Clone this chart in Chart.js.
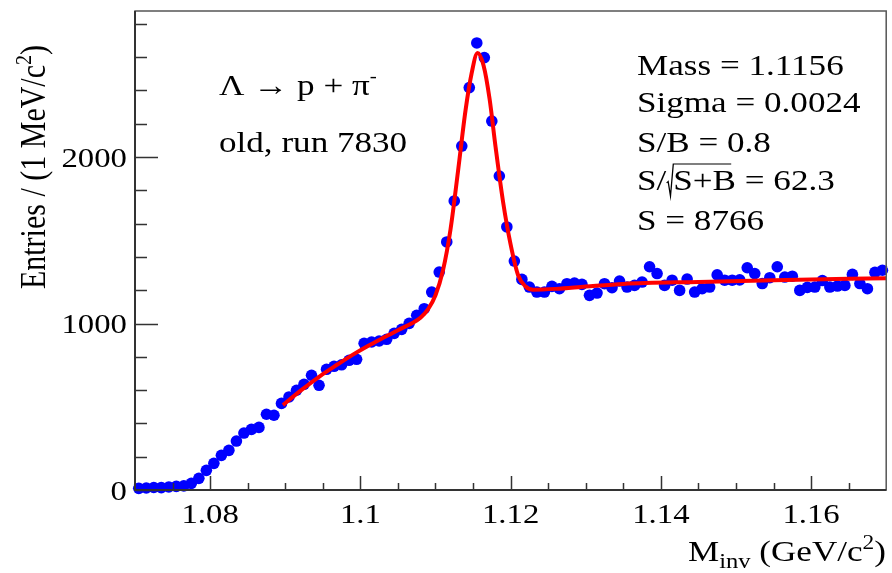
<!DOCTYPE html>
<html>
<head>
<meta charset="utf-8">
<script src="https://cdn.jsdelivr.net/npm/chart.js@4.4.1/dist/chart.umd.min.js"></script>
<style>
  html, body { margin: 0; padding: 0; background: #fff; }
  canvas { display: block; }
</style>
</head>
<body>
<canvas id="massChart" width="892" height="573"></canvas>
<script>
// bin centres, 1 MeV bins from 1.070 to 1.170
const massBins = [
  1.0705, 1.0715, 1.0725, 1.0735, 1.0745, 1.0755, 1.0765, 1.0775, 1.0785, 1.0795,
  1.0805, 1.0815, 1.0825, 1.0835, 1.0845, 1.0855, 1.0865, 1.0875, 1.0885, 1.0895,
  1.0905, 1.0915, 1.0925, 1.0935, 1.0945, 1.0955, 1.0965, 1.0975, 1.0985, 1.0995,
  1.1005, 1.1015, 1.1025, 1.1035, 1.1045, 1.1055, 1.1065, 1.1075, 1.1085, 1.1095,
  1.1105, 1.1115, 1.1125, 1.1135, 1.1145, 1.1155, 1.1165, 1.1175, 1.1185, 1.1195,
  1.1205, 1.1215, 1.1225, 1.1235, 1.1245, 1.1255, 1.1265, 1.1275, 1.1285, 1.1295,
  1.1305, 1.1315, 1.1325, 1.1335, 1.1345, 1.1355, 1.1365, 1.1375, 1.1385, 1.1395,
  1.1405, 1.1415, 1.1425, 1.1435, 1.1445, 1.1455, 1.1465, 1.1475, 1.1485, 1.1495,
  1.1505, 1.1515, 1.1525, 1.1535, 1.1545, 1.1555, 1.1565, 1.1575, 1.1585, 1.1595,
  1.1605, 1.1615, 1.1625, 1.1635, 1.1645, 1.1655, 1.1665, 1.1675, 1.1685, 1.1695
];
const entries = [
  10, 12, 15, 14, 18, 22, 25, 40, 70, 118,
  160, 208, 238, 294, 342, 364, 376, 455, 449, 520,
  559, 599, 635, 689, 629, 725, 743, 752, 779, 785,
  881, 889, 895, 905, 941, 965, 1001, 1049, 1089, 1189,
  1309, 1490, 1736, 2066, 2417, 2685, 2597, 2216, 1886, 1580,
  1375, 1265, 1219, 1189, 1189, 1223, 1209, 1239, 1243, 1235,
  1169, 1183, 1239, 1215, 1255, 1219, 1229, 1249, 1341, 1300,
  1229, 1260, 1199, 1267, 1189, 1209, 1219, 1292, 1260, 1260,
  1262, 1335, 1300, 1240, 1275, 1341, 1279, 1284, 1199, 1217,
  1219, 1258, 1219, 1225, 1229, 1295, 1240, 1209, 1307, 1320
];

// fitted curve
const fitMass = [
  1.0897, 1.0920, 1.0945, 1.0970, 1.0989, 1.1010, 1.1033, 1.1050, 1.1068, 1.1080,
  1.1090, 1.1100, 1.1110, 1.1120, 1.1130, 1.1140, 1.1148, 1.1156, 1.1164, 1.1172,
  1.1180, 1.1190, 1.1200, 1.1210, 1.1220, 1.1230, 1.1260, 1.1300, 1.1350, 1.1450,
  1.1550, 1.1700
];
const fitValues = [
  510, 595, 680, 755, 810, 865, 920, 960, 1000, 1035,
  1085, 1170, 1320, 1565, 1915, 2280, 2500, 2625, 2550, 2350,
  2060, 1730, 1475, 1290, 1222, 1203, 1208, 1222, 1238, 1250,
  1260, 1272
];

const xMajorTicks = [1.08, 1.10, 1.12, 1.14, 1.16];
const xTickLabels = ["1.08", "1.1", "1.12", "1.14", "1.16"];
const xMinorTicks = [1.075, 1.085, 1.09, 1.095, 1.105, 1.11, 1.115, 1.125, 1.13, 1.135,
  1.145, 1.15, 1.155, 1.165];
const yMajorTicks = [0, 1000, 2000];
const yTickLabels = ["0", "1000", "2000"];
const yMinorTicks = [200, 400, 600, 800, 1200, 1400, 1600, 1800, 2200, 2400, 2600, 2800];

const statLines = ["Mass = 1.1156", "Sigma = 0.0024", "S/B = 0.8", "SQRT", "S = 8766"];

const SERIF = '"Liberation Serif", "Times New Roman", serif';
const SX = 1.17; // ROOT text is a bit wider than Times

function font(size) {
  return size + "px " + SERIF;
}

// draw runs of text left to right, horizontally stretched
function drawRuns(ctx, runs, x, y, align) {
  ctx.save();
  ctx.textBaseline = "alphabetic";
  ctx.textAlign = "left";
  let w = 0;
  runs.forEach(r => {
    ctx.font = font(r.size);
    w += r.gap !== undefined ? r.gap : ctx.measureText(r.t).width;
  });
  ctx.translate(x, y);
  ctx.scale(SX, 1);
  let cx = align === "right" ? -w : align === "center" ? -w / 2 : 0;
  runs.forEach(r => {
    ctx.font = font(r.size);
    if (r.draw) {
      r.draw(ctx, cx);
      cx += r.gap;
    } else {
      ctx.fillText(r.t, cx, r.dy || 0);
      cx += ctx.measureText(r.t).width;
    }
  });
  ctx.restore();
}

const rootFrame = {
  id: "rootFrame",
  afterDatasetsDraw(chart) {
    const ctx = chart.ctx;
    const a = chart.chartArea;
    const xs = chart.scales.x;
    const ys = chart.scales.y;
    ctx.save();

    // frame
    ctx.strokeStyle = "#555";
    ctx.lineWidth = 1.5;
    ctx.strokeRect(a.left, a.top, a.right - a.left, a.bottom - a.top);
    ctx.lineWidth = 2;
    ctx.strokeStyle = "#333";
    ctx.beginPath();
    ctx.moveTo(a.left, a.top);
    ctx.lineTo(a.left, a.bottom);
    ctx.lineTo(a.right, a.bottom);
    ctx.stroke();

    // ticks, pointing inward
    ctx.lineWidth = 1.5;
    ctx.beginPath();
    xMajorTicks.forEach(v => {
      const px = Math.round(xs.getPixelForValue(v)) + 0.5;
      ctx.moveTo(px, a.bottom);
      ctx.lineTo(px, a.bottom - 14);
    });
    xMinorTicks.forEach(v => {
      const px = Math.round(xs.getPixelForValue(v)) + 0.5;
      ctx.moveTo(px, a.bottom);
      ctx.lineTo(px, a.bottom - 7);
    });
    yMajorTicks.forEach(v => {
      const py = Math.round(ys.getPixelForValue(v)) + 0.5;
      ctx.moveTo(a.left, py);
      ctx.lineTo(a.left + 23, py);
    });
    yMinorTicks.forEach(v => {
      const py = Math.round(ys.getPixelForValue(v)) + 0.5;
      ctx.moveTo(a.left, py);
      ctx.lineTo(a.left + 12, py);
    });
    ctx.stroke();

    ctx.fillStyle = "#000";
    // tick labels
    xMajorTicks.forEach((v, i) => {
      drawRuns(ctx, [{ t: xTickLabels[i], size: 28 }], xs.getPixelForValue(v), 523, "center");
    });
    yMajorTicks.forEach((v, i) => {
      drawRuns(ctx, [{ t: yTickLabels[i], size: 28 }], 127, ys.getPixelForValue(v) + 9.5, "right");
    });

    // x title
    drawRuns(ctx, [
      { t: "M", size: 30 },
      { t: "inv", size: 21, dy: 7 },
      { t: " (GeV/c", size: 30 },
      { t: "2", size: 20, dy: -12 },
      { t: ")", size: 30 }
    ], 886, 561, "right");

    // y title, rotated
    ctx.save();
    ctx.translate(45, 45);
    ctx.scale(SX, 1);
    ctx.rotate(-Math.PI / 2);
    ctx.textAlign = "left";
    ctx.textBaseline = "alphabetic";
    const yParts = [
      { t: "Entries / (1 MeV/c", size: 30, dy: 0 },
      { t: "2", size: 20, dy: -12 },
      { t: ")", size: 30, dy: 0 }
    ];
    let tw = 0;
    yParts.forEach(p => { ctx.font = font(p.size); tw += ctx.measureText(p.t).width; });
    let cx = -tw;
    yParts.forEach(p => {
      ctx.font = font(p.size);
      ctx.fillText(p.t, cx, p.dy);
      cx += ctx.measureText(p.t).width;
    });
    ctx.restore();

    // reaction label
    drawRuns(ctx, [
      { t: "\u039B \u2192 p + \u03C0", size: 30 },
      { t: "-", size: 18, dy: -13 }
    ], 219, 95, "left");
    drawRuns(ctx, [{ t: "old, run 7830", size: 30 }], 219, 152, "left");

    // fit results
    const baselines = [75, 112, 151.5, 190, 230];
    statLines.forEach((s, i) => {
      if (s === "SQRT") {
        drawRuns(ctx, [
          { t: "S/", size: 30 },
          {
            gap: 6, draw: (c, x0) => {
              c.save();
              c.lineWidth = 1.1;
              c.strokeStyle = "#000";
              c.beginPath();
              c.moveTo(x0 + 0.3, -7);
              c.lineTo(x0 + 1.6, -8.5);
              c.lineTo(x0 + 3.6, 6);
              c.lineTo(x0 + 6, -26);
              c.lineTo(x0 + 6 + 49.5, -26);
              c.stroke();
              c.restore();
            }
          },
          { t: "S+B", size: 30 },
          { t: " = 62.3", size: 30 }
        ], 637, baselines[i], "left");
      } else {
        drawRuns(ctx, [{ t: s, size: 30 }], 637, baselines[i], "left");
      }
    });

    ctx.restore();
  }
};

const points = massBins.map((m, i) => ({ x: m, y: entries[i] }));
const fitPoints = fitMass.map((m, i) => ({ x: m, y: fitValues[i] }));

new Chart(document.getElementById("massChart").getContext("2d"), {
  type: "scatter",
  data: {
    datasets: [
      {
        label: "fit",
        data: fitPoints,
        showLine: true,
        borderColor: "#ff0000",
        borderWidth: 4,
        pointRadius: 0,
        cubicInterpolationMode: "monotone",
        order: 0,
        clip: false
      },
      {
        label: "data",
        data: points,
        backgroundColor: "#0000ff",
        borderColor: "#0000ff",
        borderWidth: 0,
        pointRadius: 5.8,
        order: 1,
        clip: false
      }
    ]
  },
  options: {
    responsive: false,
    animation: false,
    devicePixelRatio: 1,
    layout: { padding: { left: 135, right: 4, top: 11, bottom: 83 } },
    plugins: {
      legend: { display: false },
      tooltip: { enabled: false }
    },
    scales: {
      x: { type: "linear", min: 1.07, max: 1.17, display: false },
      y: { type: "linear", min: 0, max: 2877, display: false }
    }
  },
  plugins: [rootFrame]
});
</script>
</body>
</html>
